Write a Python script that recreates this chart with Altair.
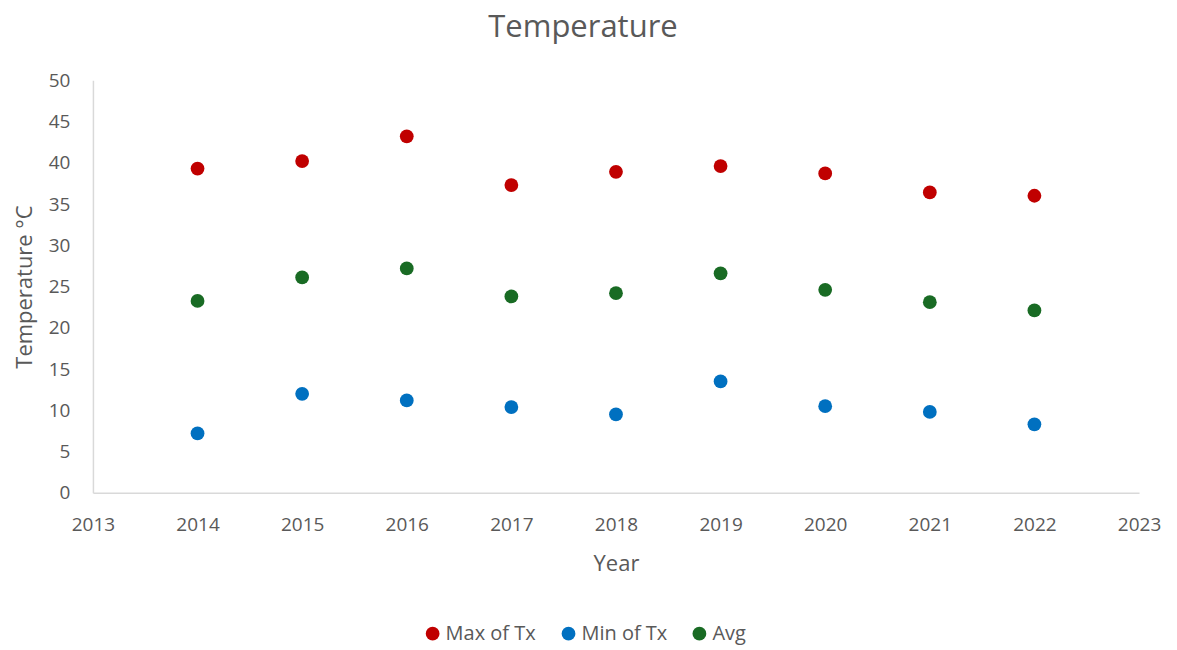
import altair as alt
import pandas as pd

years = [2014, 2015, 2016, 2017, 2018, 2019, 2020, 2021, 2022]
max_tx = [39.3, 40.2, 43.2, 37.3, 38.9, 39.6, 38.7, 36.4, 36.0]
min_tx = [7.2, 12.0, 11.2, 10.4, 9.5, 13.5, 10.5, 9.8, 8.3]
avg_tx = [23.25, 26.1, 27.2, 23.8, 24.2, 26.6, 24.6, 23.1, 22.1]

series = ["Max of Tx", "Min of Tx", "Avg"]
colors = ["#C00000", "#0070C0", "#196B24"]

rows = []
for name, vals in zip(series, [max_tx, min_tx, avg_tx]):
    for y, v in zip(years, vals):
        rows.append({"Year": y, "Temp": v, "Series": name})
df = pd.DataFrame(rows)

FONT = "Open Sans"
GREY = "#595959"

chart = alt.Chart(df).mark_point(filled=True, shape="circle", size=190, opacity=1).encode(
    x=alt.X("Year:Q", scale=alt.Scale(domain=[2013, 2023], nice=False, zero=False),
            axis=alt.Axis(values=list(range(2013, 2024)), format="d", grid=False, ticks=False,
                          domainColor="#D9D9D9", domainWidth=1.5, labelPadding=23,
                          labelFontSize=19, labelColor=GREY, labelFont=FONT,
                          title="Year", titleFontSize=22, titleColor=GREY, titleFont=FONT,
                          titleFontWeight="normal", titlePadding=19, labelFlush=False)),
    y=alt.Y("Temp:Q", scale=alt.Scale(domain=[0, 50], nice=False),
            axis=alt.Axis(values=list(range(0, 55, 5)), grid=False, ticks=False,
                          domainColor="#D9D9D9", domainWidth=1.5, labelPadding=23,
                          labelFontSize=19, labelColor=GREY, labelFont=FONT,
                          title="Temperature °C", titleFontSize=22, titleColor=GREY, titleFont=FONT,
                          titleFontWeight="normal", titlePadding=12)),
    color=alt.Color("Series:N", scale=alt.Scale(domain=series, range=colors),
                    sort=series,
                    legend=alt.Legend(title=None, orient="none", direction="horizontal",
                                      legendX=330, legendY=544, symbolType="circle",
                                      symbolSize=190, labelFontSize=20, labelColor=GREY,
                                      labelFont=FONT, columnPadding=22, symbolOffset=0,
                                      labelOffset=3)),
).properties(
    width=1047, height=413,
    title=alt.TitleParams("Temperature", fontSize=31, color=GREY, font=FONT,
                          fontWeight="normal", anchor="middle", dx=-33, offset=27),
    autosize=alt.AutoSizeParams(type="none"),
    padding={"left": 85, "top": 72, "right": 30, "bottom": 155},
).configure_view(stroke=None)

chart.save("out.html", embed_options={"renderer": "svg", "actions": False})
